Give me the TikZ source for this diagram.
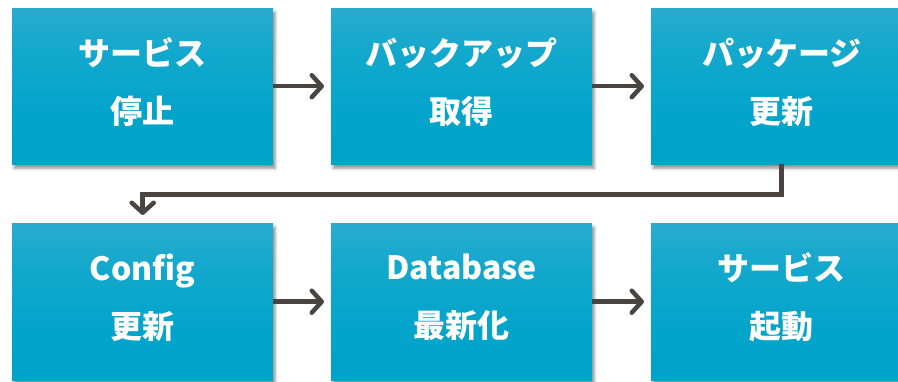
\documentclass[tikz,border=0pt]{standalone}
\usepackage{fontspec}
\setmainfont{Noto Sans CJK JP}
\usetikzlibrary{arrows.meta,shadows.blur}
\definecolor{cA}{HTML}{52B2D4}
\definecolor{cB}{HTML}{14A8CD}
\definecolor{cD}{HTML}{02A4CA}
\definecolor{cC}{HTML}{00A0C5}
\definecolor{arr}{HTML}{4A4541}
\pgfdeclareverticalshading{boxshade}{100bp}{color(0bp)=(cC); color(40bp)=(cD); color(62bp)=(cB); color(100bp)=(cA)}
\tikzset{
  stepbox/.style={rectangle, anchor=north west, minimum width=261pt, minimum height=156pt,
    inner sep=0pt, shading=boxshade,
    blur shadow={shadow xshift=2pt, shadow yshift=-4pt, shadow blur radius=3pt, shadow opacity=45}},
  steptext/.style={text=white, align=center, inner sep=0pt, yshift=4pt,
    font=\fontsize{32}{58}\selectfont\bfseries},
  flow/.style={draw=arr, line width=4.5pt,
    -{Straight Barb[length=10pt,width=22pt,line cap=round,line join=round]}}
}
\begin{document}
\begin{tikzpicture}[x=1pt,y=-1pt]
\useasboundingbox (0,0) rectangle (898,381);
\clip (0,0) rectangle (898,381);
\node[stepbox, label={[steptext]center:サービス\\停止}] (p1) at (12,8) {};
\node[stepbox, label={[steptext]center:バックアップ\\取得}] (p2) at (331,8) {};
\node[stepbox, label={[steptext]center:パッケージ\\更新}] (p3) at (651,8) {};
\node[stepbox, minimum height=157pt, label={[steptext]center:Config\\更新}] (p4) at (12,223) {};
\node[stepbox, minimum height=157pt, label={[steptext]center:Database\\最新化}] (p5) at (331,223) {};
\node[stepbox, minimum height=157pt, label={[steptext]center:サービス\\起動}] (p6) at (651,223) {};
\draw[flow, shorten >=7pt] (p1) -- (p2);
\draw[flow, shorten >=7pt] (p2) -- (p3);
\draw[flow, shorten >=7pt] (p4) -- (p5);
\draw[flow, shorten >=7pt] (p5) -- (p6);
\draw[flow, shorten >=8pt] (p3.south) -- ++(0,30) -| (p4.north);
\end{tikzpicture}
\end{document}
